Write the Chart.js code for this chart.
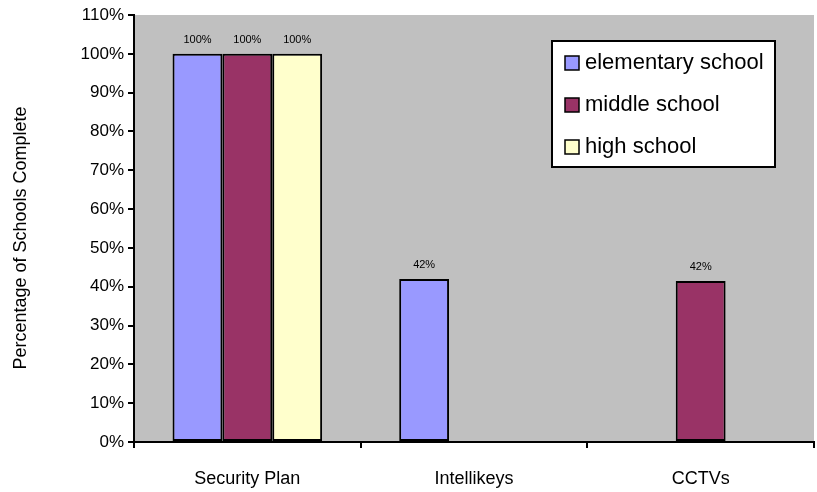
<!DOCTYPE html>
<html>
<head>
<meta charset="utf-8">
<script src="https://cdn.jsdelivr.net/npm/chart.js@4/dist/chart.umd.min.js"></script>
<style>
html,body{margin:0;padding:0;background:#fff;}
#wrap{width:817px;height:492px;}
</style>
</head>
<body>
<div id="wrap"><canvas id="c" width="817" height="492"></canvas></div>
<script>
const categories = ["Security Plan", "Intellikeys", "CCTVs"];
const seriesNames = ["elementary school", "middle school", "high school"];
const elementary = [100, 42, null];
const middle = [100, null, 41.5];
const high = [100, null, null];
const seriesColors = ["#9999FF", "#993366", "#FFFFCC"];
const yTicksMax = 110;
const yTickStep = 10;
const yTitle = "Percentage of Schools Complete";

const FONT = "'Liberation Sans', Arial, sans-serif";

const bgPlugin = {
  id: 'plotBg',
  beforeDraw(chart) {
    const a = chart.chartArea, ctx = chart.ctx;
    ctx.save();
    ctx.fillStyle = '#C0C0C0';
    ctx.fillRect(a.left, a.top, a.right - a.left, a.bottom - a.top);
    ctx.restore();
  }
};

const titlePlugin = {
  id: 'yTitle',
  afterDraw(chart) {
    const ctx = chart.ctx;
    ctx.save();
    ctx.translate(21, 238);
    ctx.rotate(-Math.PI / 2);
    ctx.font = '18px ' + FONT;
    ctx.fillStyle = '#000';
    ctx.textAlign = 'center';
    ctx.textBaseline = 'middle';
    ctx.fillText(yTitle, 0, 0);
    ctx.restore();
  }
};

const labelPlugin = {
  id: 'valLabels',
  afterDatasetsDraw(chart) {
    const ctx = chart.ctx;
    ctx.save();
    ctx.font = '11px ' + FONT;
    ctx.fillStyle = '#000';
    ctx.textAlign = 'center';
    ctx.textBaseline = 'bottom';
    chart.data.datasets.forEach((ds, i) => {
      const meta = chart.getDatasetMeta(i);
      meta.data.forEach((el, j) => {
        const v = ds.data[j];
        if (v === null || v === undefined) return;
        ctx.fillText(Math.round(v) + '%', el.x, el.y - 8);
      });
    });
    ctx.restore();
  }
};

const legendPlugin = {
  id: 'boxLegend',
  afterDraw(chart) {
    const ctx = chart.ctx;
    const x = 552, y = 41, w = 223, h = 126;
    ctx.save();
    ctx.fillStyle = '#fff';
    ctx.fillRect(x, y, w, h);
    ctx.lineWidth = 2;
    ctx.strokeStyle = '#000';
    ctx.strokeRect(x, y, w, h);
    ctx.font = '22px ' + FONT;
    ctx.textBaseline = 'middle';
    ctx.textAlign = 'left';
    chart.data.datasets.forEach((ds, i) => {
      const cy = y + 22 + i * 42;
      ctx.fillStyle = ds.backgroundColor;
      ctx.fillRect(x + 13, cy - 7, 14, 14);
      ctx.lineWidth = 1.5;
      ctx.strokeRect(x + 13, cy - 7, 14, 14);
      ctx.fillStyle = '#000';
      ctx.fillText(ds.label, x + 33, cy);
    });
    ctx.restore();
  }
};

new Chart(document.getElementById('c'), {
  type: 'bar',
  data: {
    labels: categories,
    datasets: [
      { label: seriesNames[0], data: elementary, backgroundColor: seriesColors[0] },
      { label: seriesNames[1], data: middle, backgroundColor: seriesColors[1] },
      { label: seriesNames[2], data: high, backgroundColor: seriesColors[2] }
    ]
  },
  options: {
    responsive: false,
    animation: false,
    devicePixelRatio: 1,
    layout: { padding: { left: 0, right: 3, top: 15, bottom: 0 } },
    datasets: {
      bar: {
        borderColor: '#000',
        borderWidth: 2,
        borderSkipped: false,
        categoryPercentage: 0.66,
        barPercentage: 1.0,
        grouped: true,
        skipNull: false
      }
    },
    plugins: {
      legend: { display: false },
      tooltip: { enabled: false }
    },
    scales: {
      x: {
        grid: { offset: true, drawOnChartArea: false, drawTicks: true, tickLength: 6, color: '#000', lineWidth: 2 },
        border: { color: '#000', width: 2 },
        ticks: { color: '#000', font: { family: FONT, size: 18 }, padding: 20 },
        afterFit(scale) { scale.height = 50; }
      },
      y: {
        min: 0,
        max: yTicksMax,
        ticks: {
          stepSize: yTickStep,
          color: '#000',
          font: { family: FONT, size: 17 },
          padding: 4,
          callback: v => v + '%'
        },
        grid: { drawOnChartArea: false, drawTicks: true, tickLength: 6, color: '#000', lineWidth: 2 },
        border: { color: '#000', width: 2 },
        title: { display: false },
        afterFit(scale) { scale.width = 134; }
      }
    }
  },
  plugins: [bgPlugin, labelPlugin, legendPlugin, titlePlugin]
});
</script>
</body>
</html>
